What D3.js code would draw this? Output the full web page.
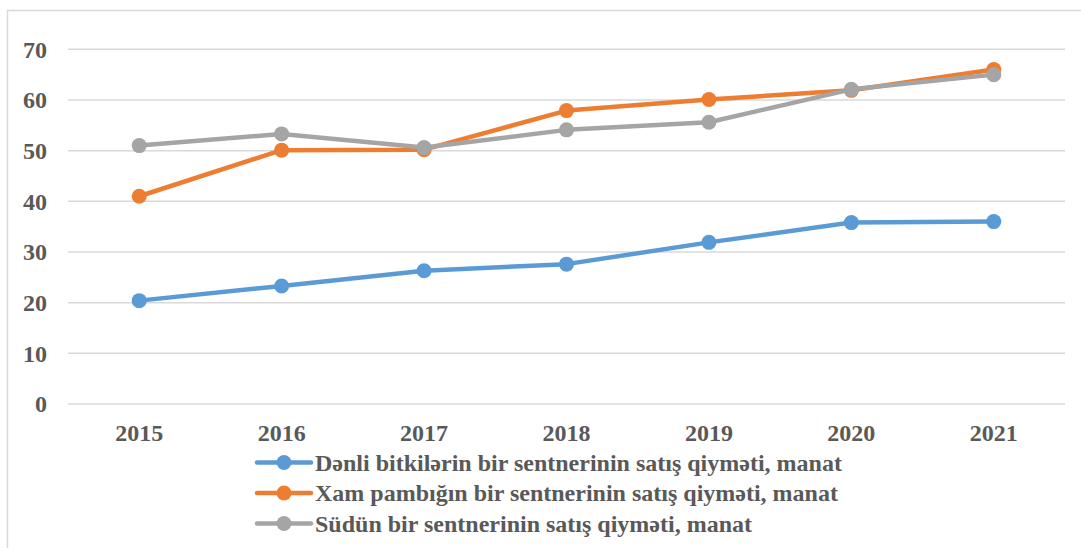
<!DOCTYPE html>
<html>
<head>
<meta charset="utf-8">
<script src="https://d3js.org/d3.v7.min.js"></script>
<style>
  body { margin: 0; background: #fff; }
</style>
</head>
<body>
<div id="chart"></div>
<script>
// chart data
var years = ["2015", "2016", "2017", "2018", "2019", "2020", "2021"];
var grain = [20.4, 23.3, 26.3, 27.6, 31.9, 35.8, 36.0];
var cotton = [41.0, 50.1, 50.2, 57.9, 60.1, 61.9, 66.0];
var milk = [51.0, 53.3, 50.6, 54.1, 55.6, 62.1, 65.0];
var yTicks = [0, 10, 20, 30, 40, 50, 60, 70];
var seriesNames = [
  "Dənli bitkilərin bir sentnerinin satış qiyməti, manat",
  "Xam pambığın bir sentnerinin satış qiyməti, manat",
  "Südün bir sentnerinin satış qiyməti, manat"
];
var colours = ["#5B9BD5", "#ED7D31", "#A5A5A5"];

var width = 1081, height = 548;
var plotLeft = 68, plotRight = 1065, plotTop = 49.3, plotBottom = 404;
var fontFamily = "'Liberation Serif', 'Times New Roman', Times, serif";

var svg = d3.select("#chart").append("svg")
    .attr("width", width)
    .attr("height", height)
    .attr("font-family", fontFamily)
    .attr("font-weight", "bold");

// outer chart frame (cropped on right/bottom)
svg.append("rect")
    .attr("x", 7.5).attr("y", 10.5)
    .attr("width", 1200).attr("height", 700)
    .attr("fill", "none")
    .attr("stroke", "#D9D9D9")
    .attr("stroke-width", 1.5);

var x = d3.scaleBand().domain(years).range([plotLeft, plotRight]);
var y = d3.scaleLinear().domain([0, 70]).range([plotBottom, plotTop]);

// gridlines
svg.append("g").selectAll("line")
    .data(yTicks)
    .enter().append("line")
    .attr("x1", plotLeft).attr("x2", plotRight)
    .attr("y1", function(d) { return y(d); })
    .attr("y2", function(d) { return y(d); })
    .attr("stroke", "#D9D9D9")
    .attr("stroke-width", 1.5);

// y labels
svg.append("g").selectAll("text")
    .data(yTicks)
    .enter().append("text")
    .attr("x", 47)
    .attr("y", function(d) { return y(d); })
    .attr("dy", "0.35em")
    .attr("text-anchor", "end")
    .attr("fill", "#595959")
    .attr("font-size", 24)
    .text(function(d) { return d; });

// x labels
svg.append("g").selectAll("text")
    .data(years)
    .enter().append("text")
    .attr("x", function(d) { return x(d) + x.bandwidth() / 2; })
    .attr("y", 441)
    .attr("text-anchor", "middle")
    .attr("fill", "#595959")
    .attr("font-size", 24)
    .text(function(d) { return d; });

var series = [grain, cotton, milk];
var line = d3.line()
    .x(function(d, i) { return x(years[i]) + x.bandwidth() / 2; })
    .y(function(d) { return y(d); });

series.forEach(function(values, k) {
  var g = svg.append("g");
  g.append("path")
      .datum(values)
      .attr("d", line)
      .attr("fill", "none")
      .attr("stroke", colours[k])
      .attr("stroke-width", 4.5)
      .attr("stroke-linejoin", "round");
  g.selectAll("circle")
      .data(values)
      .enter().append("circle")
      .attr("cx", function(d, i) { return x(years[i]) + x.bandwidth() / 2; })
      .attr("cy", function(d) { return y(d); })
      .attr("r", 7.5)
      .attr("fill", colours[k]);
});

// legend
var legend = svg.append("g").selectAll("g")
    .data(seriesNames)
    .enter().append("g")
    .attr("transform", function(d, i) { return "translate(0," + (462.5 + i * 30.5) + ")"; });

legend.append("line")
    .attr("x1", 257).attr("x2", 311)
    .attr("stroke", function(d, i) { return colours[i]; })
    .attr("stroke-width", 4.5)
    .attr("stroke-linecap", "round");

legend.append("circle")
    .attr("cx", 284).attr("r", 7.5)
    .attr("fill", function(d, i) { return colours[i]; });

legend.append("text")
    .attr("x", 315)
    .attr("dy", "0.35em")
    .attr("fill", "#595959")
    .attr("font-size", 24)
    .text(function(d) { return d; });
</script>
</body>
</html>
